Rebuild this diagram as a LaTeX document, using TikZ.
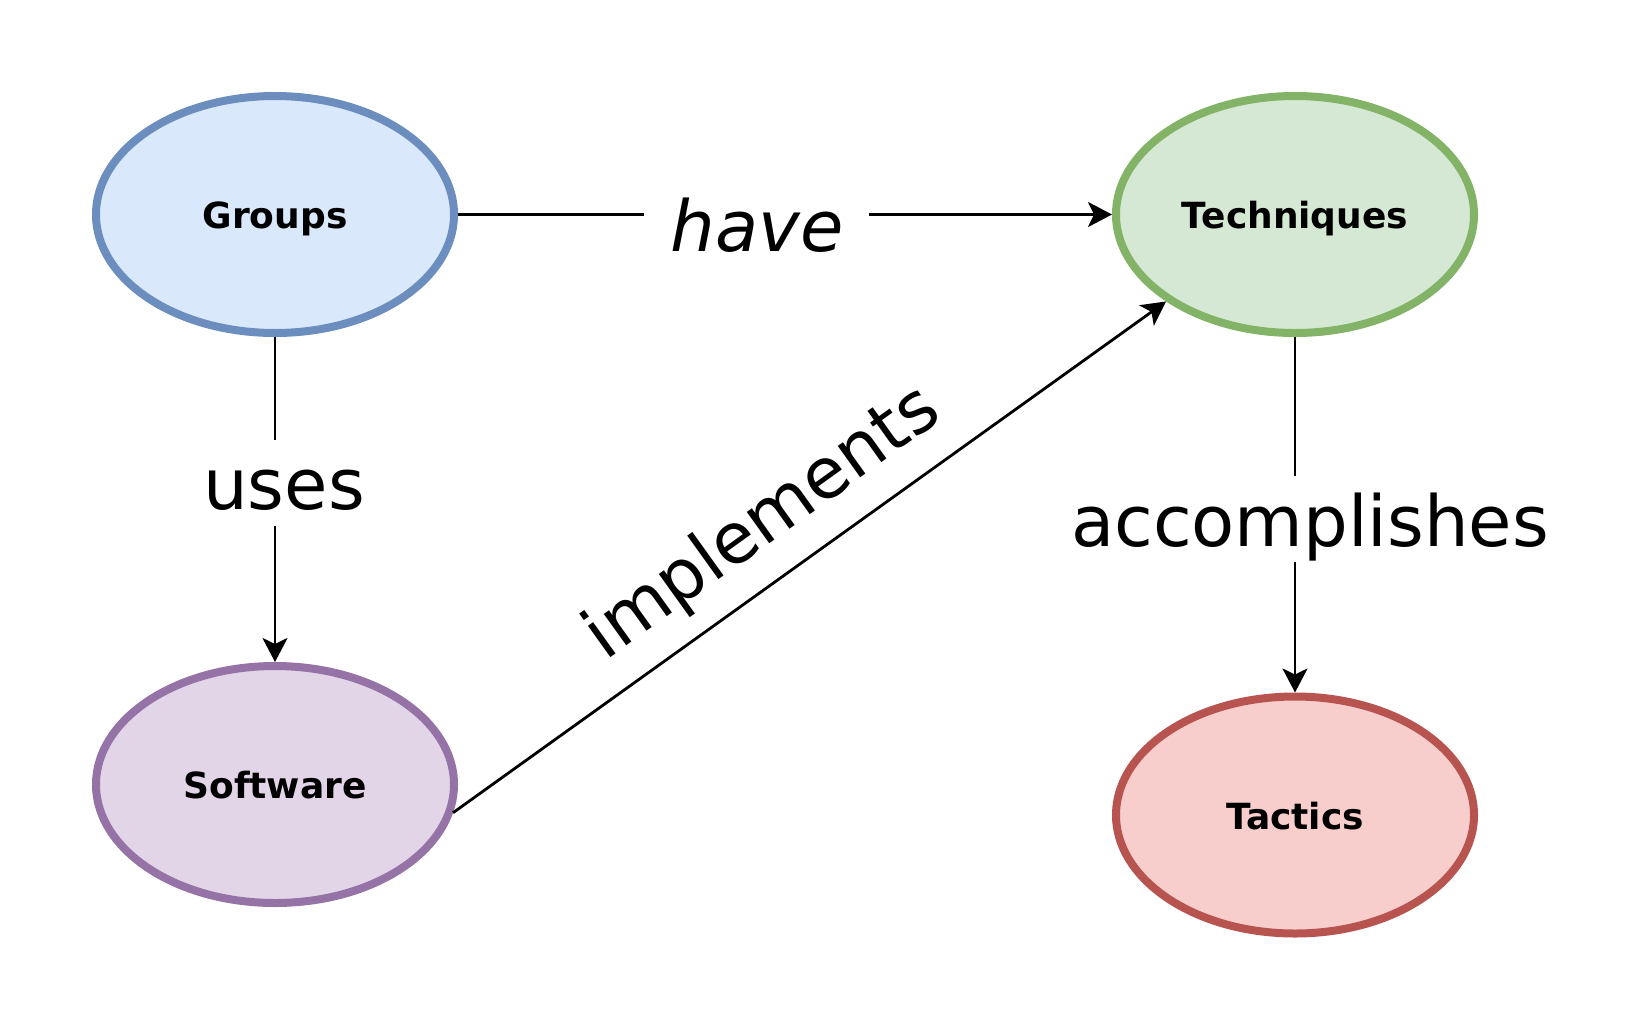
\documentclass[tikz,border=0pt]{standalone}
\usepackage{fontspec}
\setmainfont{DejaVu Sans}
\usetikzlibrary{shapes.geometric,arrows.meta}
\definecolor{gfill}{HTML}{DAE8FC}\definecolor{gdraw}{HTML}{6C8EBF}
\definecolor{tfill}{HTML}{D5E8D4}\definecolor{tdraw}{HTML}{82B366}
\definecolor{sfill}{HTML}{E1D5E7}\definecolor{sdraw}{HTML}{9673A6}
\definecolor{rfill}{HTML}{F8CECC}\definecolor{rdraw}{HTML}{B85450}
\begin{document}
\begin{tikzpicture}[x=1pt,y=-1pt,
  ent/.style={ellipse, line width=8pt, minimum width=358pt, minimum height=237pt,
    inner sep=0pt, font=\fontsize{36}{43}\selectfont\bfseries, text height=36pt, text depth=8pt},
  conn/.style={line width=2.8pt, -{Stealth[length=24pt,width=25pt,inset=6pt]}},
  lbl/.style={inner sep=0pt, font=\fontsize{70.5}{86}\selectfont, text height=70pt, text depth=16pt},
  gap/.style={lbl, fill=white}]
\useasboundingbox (0,0) rectangle (1638,1029);
\node[ent, draw=gdraw, fill=gfill] (g) at (275,214.5) {Groups};
\node[ent, draw=tdraw, fill=tfill] (t) at (1295,214.5) {Techniques};
\node[ent, draw=sdraw, fill=sfill] (s) at (275,784.5) {Software};
\node[ent, draw=rdraw, fill=rfill] (r) at (1295,815) {Tactics};
\draw[conn] (g) -- node[gap, pos=0.457, yshift=-10pt, minimum width=225pt] {\itshape have} (t);
\draw[conn] (g) -- node[gap, pos=0.449, xshift=9pt] {uses} (s);
\draw[conn] (t) -- node[gap, pos=0.513, xshift=15pt] {accomplishes} (r);
\draw[conn] (s.-9.15) -- node[lbl, sloped, pos=0.479, above=17pt] {implements} (t.-146.1);
\end{tikzpicture}
\end{document}
